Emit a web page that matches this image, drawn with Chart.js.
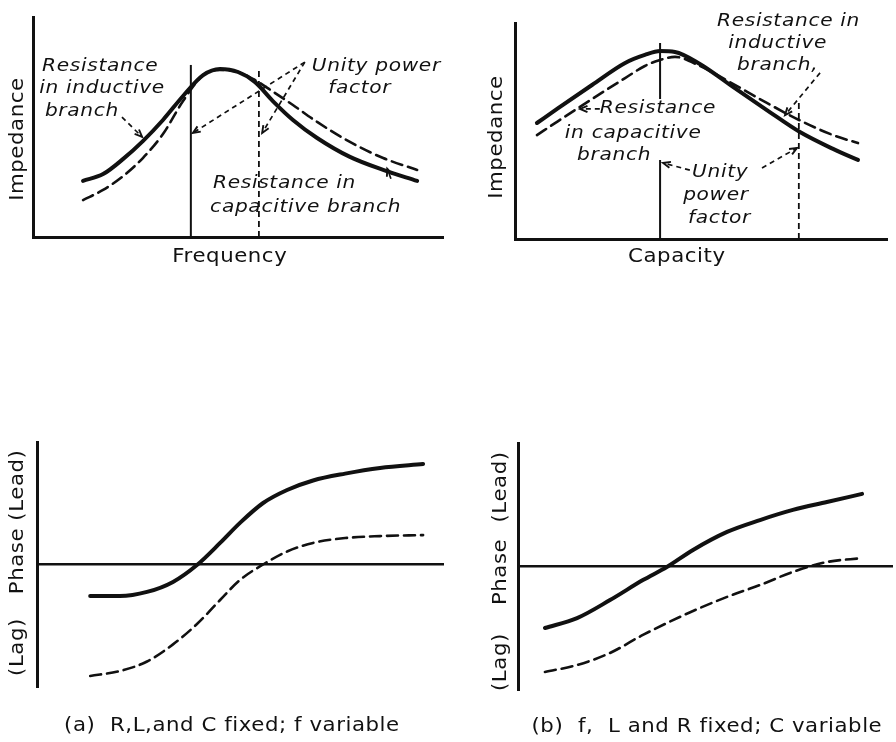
<!DOCTYPE html>
<html>
<head>
<meta charset="utf-8">
<script src="https://cdn.jsdelivr.net/npm/chart.js@4"></script>
<style>
    html, body { margin: 0; padding: 0; background: #fff; }
    #wrap { position: relative; width: 896px; height: 742px; }
    canvas { position: absolute; }
</style>
</head>
<body>
<div id="wrap">
    <canvas id="impA" width="448" height="280" style="left:0;top:0"></canvas>
    <canvas id="impB" width="448" height="280" style="left:448px;top:0"></canvas>
    <canvas id="phaseA" width="448" height="322" style="left:0;top:420px"></canvas>
    <canvas id="phaseB" width="448" height="322" style="left:448px;top:420px"></canvas>
</div>
<script>
// (a) impedance vs frequency (axis units 0-100)
const freqX      = [12.2, 17.1, 22.0, 26.8, 31.7, 36.6, 41.5, 45.6, 50.0, 54.1, 58.5, 63.4, 69.3, 77.3, 85.4, 93.7];
const impSolidA  = [25.5, 28.6, 35.5, 43.6, 53.2, 64.1, 73.6, 76.4, 75.0, 70.5, 61.8, 53.2, 45.0, 36.4, 30.5, 25.5];
const impDashedA = [16.8, 21.4, 27.7, 35.9, 46.8, 61.8, 73.6, 75.9, 75.0, 71.4, 66.1, 60.0, 52.3, 43.2, 35.9, 30.5];
const unityXA    = [38.5, 55.1];
const unityTopA  = [78.2, 75.9];

// (b) impedance vs capacity
const capX       = [5.9, 11.6, 20.7, 29.6, 34.9, 39.0, 43.0, 49.7, 58.6, 67.7, 76.6, 85.5, 92.2];
const impSolidB  = [53.7, 60.6, 71.3, 81.5, 85.2, 87.0, 86.6, 81.0, 70.4, 59.7, 49.5, 41.7, 36.6];
const impDashedB = [48.1, 54.6, 64.8, 74.5, 80.1, 82.9, 84.3, 80.1, 71.8, 63.0, 54.9, 48.1, 44.4];
const unityXB    = [39.0, 76.3];
const unityTopB  = [90.7, 64.4];
const unityGapB  = [64.8, 36.6];

// phase curves (lead positive, lag negative)
const phaseXA      = [13.1, 20.4, 27.1, 33.5, 39.4, 45.1, 50.0, 55.7, 61.6, 68.0, 75.9, 84.5, 95.1];
const phaseSolidA  = [-12.9, -12.9, -11.2, -7.1, -0.2, 8.8, 17.0, 25.1, 30.4, 34.3, 37.1, 39.4, 41.0];
const phaseDashedA = [-45.5, -43.5, -39.6, -32.6, -24.3, -14.5, -6.3, 0.0, 5.3, 8.8, 10.8, 11.6, 12.0];

const phaseXB      = [7.2, 15.8, 24.6, 33.4, 39.8, 46.8, 55.9, 64.7, 73.5, 82.6, 92.0];
const phaseSolidB  = [-24.9, -20.9, -13.6, -5.5, -0.2, 6.7, 14.0, 18.8, 22.9, 26.1, 29.4];
const phaseDashedB = [-42.7, -39.9, -35.0, -27.7, -22.9, -18.0, -12.3, -7.5, -2.2, 1.8, 3.4];

const INK = '#111';
const ITALIC = { font: 'italic 18px "DejaVu Sans"', sx: 1.12, ls: '0.6px' };
const UPRIGHT = { font: '19px "DejaVu Sans"', sx: 1.12, ls: '0.5px' };

function pts(xs, ys) {
    return xs.map((x, i) => ({ x: x, y: ys[i] }));
}

function curve(data, dashed) {
    return {
        data: data,
        borderColor: INK,
        borderWidth: dashed ? 2.6 : 4,
        borderDash: dashed ? [11, 6] : [],
        borderCapStyle: 'round',
        pointRadius: 0,
        cubicInterpolationMode: 'monotone',
        fill: false
    };
}

function vline(data, dashed) {
    return {
        data: data,
        borderColor: INK,
        borderWidth: dashed ? 1.8 : 2,
        borderDash: dashed ? [6, 4] : [],
        pointRadius: 0,
        spanGaps: false,
        tension: 0
    };
}

function drawArrow(ctx, x1, y1, x2, y2) {
    ctx.save();
    ctx.strokeStyle = INK;
    ctx.lineWidth = 1.7;
    ctx.setLineDash([5, 4]);
    ctx.beginPath();
    ctx.moveTo(x1, y1);
    ctx.lineTo(x2, y2);
    ctx.stroke();
    const ang = Math.atan2(y2 - y1, x2 - x1), len = 8;
    ctx.setLineDash([]);
    ctx.lineWidth = 1.9;
    ctx.beginPath();
    ctx.moveTo(x2 - len * Math.cos(ang - 0.4), y2 - len * Math.sin(ang - 0.4));
    ctx.lineTo(x2, y2);
    ctx.lineTo(x2 - len * Math.cos(ang + 0.4), y2 - len * Math.sin(ang + 0.4));
    ctx.stroke();
    ctx.restore();
}

function drawText(ctx, t, x, y) {
    const st = t.style || ITALIC;
    ctx.save();
    ctx.translate(x, y);
    if (t.rot) ctx.rotate(t.rot);
    ctx.scale(st.sx, 1);
    ctx.font = st.font;
    ctx.letterSpacing = st.ls;
    ctx.fillStyle = INK;
    ctx.textAlign = t.align || 'left';
    ctx.textBaseline = 'middle';
    ctx.fillText(t.text, 0, 0);
    ctx.restore();
}

// Labels and arrows, placed in axis units
const annotate = {
    id: 'annotate',
    afterDraw(chart, args, opts) {
        const { ctx, scales: { x, y } } = chart;
        const px = v => x.getPixelForValue(v);
        const py = v => y.getPixelForValue(v);
        (opts.arrows || []).forEach(a => drawArrow(ctx, px(a[0]), py(a[1]), px(a[2]), py(a[3])));
        (opts.texts || []).forEach(t => drawText(ctx, t, px(t.x), py(t.y)));
    }
};

function makeChart(id, datasets, yRange, padding, zeroAxis, notes) {
    return new Chart(document.getElementById(id), {
        type: 'line',
        data: { datasets: datasets },
        options: {
            responsive: false,
            animation: false,
            events: [],
            layout: { padding: padding },
            plugins: {
                legend: { display: false },
                tooltip: { enabled: false },
                annotate: notes
            },
            scales: {
                x: {
                    type: 'linear', min: 0, max: 100,
                    position: zeroAxis ? { y: 0 } : 'bottom',
                    ticks: { display: false },
                    grid: { display: false, drawTicks: false },
                    border: { display: true, color: INK, width: zeroAxis ? 2.5 : 3 }
                },
                y: {
                    type: 'linear', min: yRange[0], max: yRange[1],
                    ticks: { display: false },
                    grid: { display: false, drawTicks: false },
                    border: { display: true, color: INK, width: 3 }
                }
            }
        },
        plugins: [annotate]
    });
}

const ROT = -Math.PI / 2;

makeChart('impA', [
    curve(pts(freqX, impSolidA), false),
    curve(pts(freqX, impDashedA), true),
    vline([{ x: unityXA[0], y: 0 }, { x: unityXA[0], y: unityTopA[0] }], false),
    vline([{ x: unityXA[1], y: 0 }, { x: unityXA[1], y: unityTopA[1] }], true)
], [0, 100], { left: 33, top: 17, right: 5, bottom: 43 }, false, {
    texts: [
        { text: 'Resistance', x: 2.2, y: 77.7 },
        { text: 'in inductive', x: 1.5, y: 67.7 },
        { text: 'branch', x: 2.9, y: 57.3 },
        { text: 'Unity power', x: 68.0, y: 77.7 },
        { text: 'factor', x: 72.0, y: 67.7 },
        { text: 'Resistance in', x: 43.9, y: 24.5 },
        { text: 'capacitive branch', x: 43.2, y: 13.6 },
        { text: 'Frequency', x: 48.0, y: -9.1, align: 'center', style: UPRIGHT },
        { text: 'Impedance', x: -3.7, y: 44.5, align: 'center', rot: ROT, style: UPRIGHT }
    ],
    arrows: [
        [21.7, 54.5, 26.6, 45.5],
        [66.3, 79.5, 39.0, 47.3],
        [66.3, 79.5, 55.9, 47.3],
        [87.3, 26.5, 86.4, 31.0]
    ]
});

makeChart('impB', [
    curve(pts(capX, impSolidB), false),
    curve(pts(capX, impDashedB), true),
    vline([{ x: unityXB[0], y: unityTopB[0] }, { x: unityXB[0], y: unityGapB[0] },
           { x: unityXB[0], y: null },
           { x: unityXB[0], y: unityGapB[1] }, { x: unityXB[0], y: 0 }], false),
    vline([{ x: unityXB[1], y: 0 }, { x: unityXB[1], y: unityTopB[1] }], true)
], [0, 100], { left: 67, top: 23, right: 9, bottom: 41 }, false, {
    texts: [
        { text: 'Resistance in', x: 54.3, y: 100.9 },
        { text: 'inductive', x: 57.3, y: 90.7 },
        { text: 'branch,', x: 59.7, y: 80.6 },
        { text: 'Resistance', x: 22.8, y: 60.6 },
        { text: 'in capacitive', x: 13.4, y: 49.1 },
        { text: 'branch', x: 16.7, y: 38.9 },
        { text: 'Unity', x: 47.6, y: 31.0 },
        { text: 'power', x: 45.2, y: 20.4 },
        { text: 'factor', x: 46.5, y: 9.7 },
        { text: 'Capacity', x: 43.5, y: -8.3, align: 'center', style: UPRIGHT },
        { text: 'Impedance', x: -4.8, y: 47.2, align: 'center', rot: ROT, style: UPRIGHT }
    ],
    arrows: [
        [82.0, 76.9, 72.6, 57.4],
        [22.8, 60.2, 17.5, 60.2],
        [47.0, 31.9, 39.8, 35.2],
        [66.4, 32.9, 75.8, 42.1]
    ]
});

makeChart('phaseA', [
    curve(pts(phaseXA, phaseSolidA), false),
    curve(pts(phaseXA, phaseDashedA), true)
], [-50, 50], { left: 37, top: 22, right: 5, bottom: 55 }, true, {
    texts: [
        { text: '(Lead)', x: -4.7, y: 32.4, align: 'center', rot: ROT, style: UPRIGHT },
        { text: 'Phase', x: -4.7, y: 1.4, align: 'center', rot: ROT, style: UPRIGHT },
        { text: '(Lag)', x: -4.7, y: -33.7, align: 'center', rot: ROT, style: UPRIGHT },
        { text: '(a)  R,L,and C fixed; f variable', x: 48.0, y: -65.9, align: 'center', style: UPRIGHT }
    ]
});

makeChart('phaseB', [
    curve(pts(phaseXB, phaseSolidB), false),
    curve(pts(phaseXB, phaseDashedB), true)
], [-50, 50], { left: 70, top: 23, right: 4, bottom: 52 }, true, {
    texts: [
        { text: '(Lead)', x: -4.5, y: 32.2, align: 'center', rot: ROT, style: UPRIGHT },
        { text: 'Phase', x: -4.5, y: -2.2, align: 'center', rot: ROT, style: UPRIGHT },
        { text: '(Lag)', x: -4.5, y: -38.7, align: 'center', rot: ROT, style: UPRIGHT },
        { text: '(b)  f,  L and R fixed; C variable', x: 50.5, y: -65.0, align: 'center', style: UPRIGHT }
    ]
});
</script>
</body>
</html>
